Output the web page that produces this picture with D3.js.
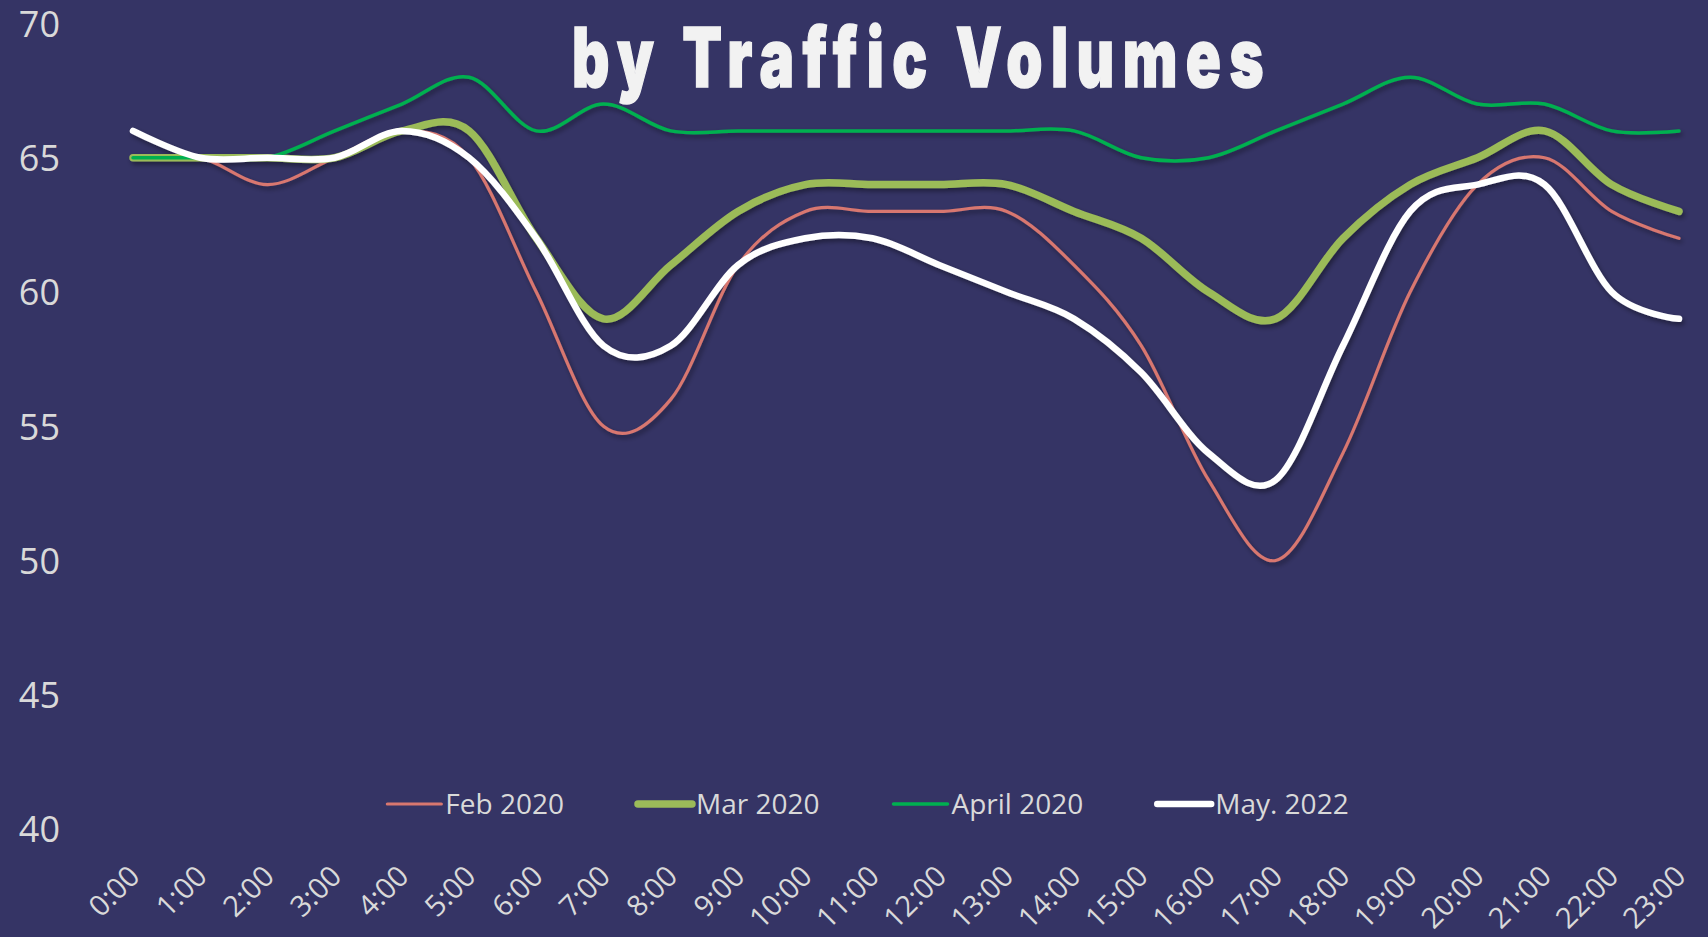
<!DOCTYPE html>
<html>
<head>
<meta charset="utf-8">
<script src="https://cdn.jsdelivr.net/npm/d3@7"></script>
<style>
  html, body { margin: 0; padding: 0; background: #353465; overflow: hidden; }
  svg { display: block; }
</style>
</head>
<body>
<svg id="chart" width="1708" height="937"></svg>
<script>
// ---- data ----
const hours = ["0:00","1:00","2:00","3:00","4:00","5:00","6:00","7:00","8:00","9:00","10:00","11:00",
               "12:00","13:00","14:00","15:00","16:00","17:00","18:00","19:00","20:00","21:00","22:00","23:00"];
const feb2020 = [65,65,64,65,66,65,60,55,56,61,63,63,63,63,61,58,53,50,54,60,64,65,63,62];
const mar2020 = [65,65,65,65,66,66,62,59,61,63,64,64,64,64,63,62,60,59,62,64,65,66,64,63];
const apr2020 = [65,65,65,66,67,68,66,67,66,66,66,66,66,66,66,65,65,66,67,68,67,67,66,66];
const may2022 = [66,65,65,65,66,65,62,58,58,61,62,62,61,60,59,57,54,53,58,63,64,64,60,59];
const seriesNames = ["Feb 2020","Mar 2020","April 2020","May. 2022"];
const yTicks = [40,45,50,55,60,65,70];
const titleText = "by Traffic Volumes";

// ---- styling ----
const seriesValues = [feb2020, mar2020, apr2020, may2022];
const seriesColors = ["#d8776f","#9bbb59","#00b050","#ffffff"];
const seriesWidths = [3.2, 7.5, 3.5, 6.5];
const textColor = "#d9d9d9";
const font = "'Open Sans', 'Noto Sans', sans-serif";

const svg = d3.select("#chart");
svg.append("rect").attr("width",1708).attr("height",937).attr("fill","#353465");

const defs = svg.append("defs");
const f = defs.append("filter").attr("id","shadow").attr("x","-5%").attr("y","-20%").attr("width","110%").attr("height","140%");
f.append("feDropShadow").attr("dx",2).attr("dy",3).attr("stdDeviation",2.5)
  .attr("flood-color","#000").attr("flood-opacity",0.4);

const x = d3.scalePoint().domain(hours).range([133, 1679]);
const y = d3.scaleLinear().domain([40, 70]).range([829, 23.5]);

// Y axis
const yAxis = svg.append("g").attr("transform","translate(60,0)")
  .call(d3.axisLeft(y).tickValues(yTicks).tickSize(0).tickPadding(0).tickFormat(d3.format("d")));
yAxis.select(".domain").remove();
yAxis.selectAll("text").attr("fill",textColor).attr("font-family",font).attr("font-size",36)
  .attr("dy","0.36em").attr("x",0);

// X axis
const xAxis = svg.append("g").attr("transform","translate(0,0)")
  .call(d3.axisBottom(x).tickSize(0).tickPadding(0));
xAxis.select(".domain").remove();
xAxis.selectAll("text").attr("fill",textColor).attr("font-family",font).attr("font-size",29)
  .attr("x",0).attr("y",0).attr("dy",0).attr("text-anchor","end")
  .attr("transform","translate(8,878) rotate(-45)");

// Title (condensed heavy display style)
svg.append("text")
  .attr("x", 572).attr("y", 87)
  .attr("textLength", 700).attr("lengthAdjust","spacingAndGlyphs")
  .attr("font-family","'Inter','Roboto','DejaVu Sans Condensed',sans-serif")
  .attr("font-weight",900).attr("font-size",82).attr("letter-spacing",12)
  .attr("fill","#f2f2f2").attr("stroke","#f2f2f2").attr("stroke-width",1.5)
  .text(titleText);

// Lines
const line = d3.line()
  .x((d,i) => x(hours[i]))
  .y(d => y(d))
  .curve(d3.curveCardinal.tension(0));

const lines = svg.append("g").attr("filter","url(#shadow)");
seriesValues.forEach((vals, k) => {
  lines.append("path").datum(vals)
    .attr("d", line)
    .attr("fill","none")
    .attr("stroke", seriesColors[k])
    .attr("stroke-width", seriesWidths[k])
    .attr("stroke-linecap","round")
    .attr("stroke-linejoin","round");
});

// Legend
const legend = svg.append("g");
const legendY = 804, sampleLen = 54, sampleGap = 4, itemGap = 74;
const items = seriesNames.map((name, k) => {
  const g = legend.append("g");
  g.append("line").attr("x1",0).attr("x2",sampleLen).attr("y1",legendY).attr("y2",legendY)
    .attr("stroke",seriesColors[k]).attr("stroke-width",seriesWidths[k]).attr("stroke-linecap","round");
  const t = g.append("text").attr("x",sampleLen+sampleGap).attr("y",legendY).attr("dy","0.36em")
    .attr("fill",textColor).attr("font-family",font).attr("font-size",28).text(name);
  return {g, w: sampleLen + sampleGap + t.node().getComputedTextLength()};
});
const total = d3.sum(items, d => d.w) + itemGap*(items.length-1);
let cx = 868 - total/2;
items.forEach(it => { it.g.attr("transform",`translate(${cx},0)`); cx += it.w + itemGap; });
</script>
</body>
</html>
